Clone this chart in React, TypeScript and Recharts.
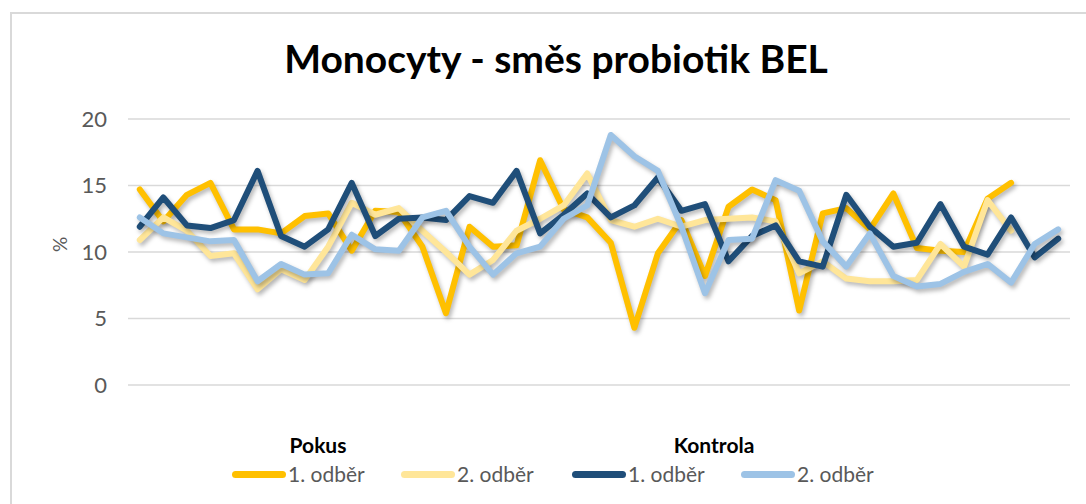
import React from 'react';
import { LineChart, Line, XAxis, YAxis, CartesianGrid, Legend } from 'recharts';

const categories = ['1','2','3','4','5','6','7','8','9','10','11','12','13','14','15','16','17','18','19','20','21','22','23','24','25','26','27','28','29','30','31','32','33','34','35','36','37','38','39','40'];

const pokus1 = [14.7, 12.3, 14.3, 15.2, 11.7, 11.7, 11.4, 12.7, 12.9, 10.1, 13.1, 13.0, 10.4, 5.4, 11.9, 10.4, 10.5, 16.9, 13.2, 12.6, 10.7, 4.3, 9.9, 12.4, 8.2, 13.4, 14.7, 13.9, 5.6, 12.9, 13.3, 11.7, 14.4, 10.3, 10.1, 10.0, 14.0, 15.2];
const pokus2 = [10.9, 12.6, 11.6, 9.7, 9.9, 7.2, 8.7, 7.9, 10.4, 13.7, 12.8, 13.3, 11.6, 10.0, 8.3, 9.4, 11.6, 12.5, 13.5, 15.9, 12.4, 11.9, 12.5, 11.9, 12.4, 12.5, 12.6, 12.3, 8.4, 9.3, 8.0, 7.8, 7.8, 7.9, 10.6, 8.9, 13.9, 11.6];
const kontrola1 = [11.9, 14.1, 12.0, 11.8, 12.4, 16.1, 11.2, 10.4, 11.7, 15.2, 11.2, 12.5, 12.6, 12.4, 14.2, 13.7, 16.1, 11.4, 12.8, 14.4, 12.6, 13.5, 15.6, 13.1, 13.6, 9.3, 11.2, 12.0, 9.3, 8.9, 14.3, 11.9, 10.4, 10.7, 13.6, 10.4, 9.8, 12.6, 9.6, 11.0];
const kontrola2 = [12.6, 11.4, 11.1, 10.8, 10.9, 7.8, 9.1, 8.3, 8.4, 11.3, 10.2, 10.1, 12.6, 13.1, 10.4, 8.3, 9.9, 10.4, 12.5, 13.5, 18.8, 17.2, 16.1, 11.9, 6.9, 10.9, 11.0, 15.4, 14.6, 10.8, 8.9, 11.4, 8.2, 7.4, 7.6, 8.5, 9.1, 7.7, 10.6, 11.7];

const yTicks = [0, 5, 10, 15, 20];
const title = 'Monocyty - směs probiotik BEL';
const groupLabels = ['Pokus', 'Kontrola'];
const seriesNames = ['1. odběr', '2. odběr', '1. odběr', '2. odběr'];
const colors = ['#FFC000', '#FFE699', '#1F4E79', '#9DC3E6'];
const keys = ['p1', 'p2', 'k1', 'k2'];

const data = categories.map((c, i) => ({
  cat: c,
  p1: i < pokus1.length ? pokus1[i] : null,
  p2: i < pokus2.length ? pokus2[i] : null,
  k1: i < kontrola1.length ? kontrola1[i] : null,
  k2: i < kontrola2.length ? kontrola2[i] : null,
}));

const FONT = 'Lato, "Liberation Sans", sans-serif';

const renderLegend = () => {
  const itemLeft = [232, 401, 572, 741];
  const groupCenter = [318, 714];
  return (
    <div style={{ position: 'relative', width: 1086, height: 70, fontFamily: FONT }}>
      {groupLabels.map((g, i) => (
        <div key={g} style={{ position: 'absolute', left: groupCenter[i] - 70, width: 140, top: 0, textAlign: 'center', fontWeight: 700, fontSize: 21, color: '#000' }}>{g}</div>
      ))}
      {seriesNames.map((n, i) => (
        <div key={i} style={{ position: 'absolute', left: itemLeft[i], top: 30, display: 'flex', alignItems: 'center' }}>
          <div style={{ width: 54, height: 7, borderRadius: 4, background: colors[i] }} />
          <span style={{ marginLeft: 2, fontSize: 21, color: '#595959', lineHeight: '24px' }}>{n}</span>
        </div>
      ))}
    </div>
  );
};

export default function App() {
  return (
    <div style={{ position: 'absolute', left: 0, top: 0, width: 1086, height: 504, background: '#fff', overflow: 'hidden' }}>
      <style>{`.recharts-line .recharts-curve { filter: drop-shadow(2px 3px 2px rgba(0,0,0,0.28)); }`}</style>
      <div style={{ position: 'absolute', left: 10, top: 12, width: 1200, height: 600, border: '2px solid #D9D9D9', boxSizing: 'border-box' }} />
      <div style={{ position: 'absolute', left: 0, top: 35, width: 1112, textAlign: 'center', fontFamily: FONT, fontWeight: 700, fontSize: 39, color: '#000' }}>{title}</div>
      <LineChart width={1086} height={504} data={data} margin={{ top: 119, right: 16, bottom: 49, left: 0 }}>
        <CartesianGrid vertical={false} stroke="#D9D9D9" strokeWidth={1.5} />
        <XAxis dataKey="cat" hide padding={{ left: 11.8, right: 11.8 }} />
        <YAxis
          width={128}
          domain={[0, 20]}
          ticks={yTicks}
          axisLine={false}
          tickLine={false}
          tickSize={0}
          tickMargin={21}
          tick={{ fill: '#595959', fontSize: 22, fontFamily: FONT }}
          label={{ value: '%', angle: -90, position: 'insideLeft', offset: 60, style: { fill: '#595959', fontSize: 19, fontFamily: FONT } }}
        />
        <Legend content={renderLegend} wrapperStyle={{ left: 0, top: 432, width: 1086, height: 70 }} />
        {keys.map((k, i) => (
          <Line key={k} dataKey={k} type="linear" stroke={colors[i]} strokeWidth={6} dot={false} activeDot={false} isAnimationActive={false} strokeLinejoin="round" strokeLinecap="round" />
        ))}
      </LineChart>
    </div>
  );
}
